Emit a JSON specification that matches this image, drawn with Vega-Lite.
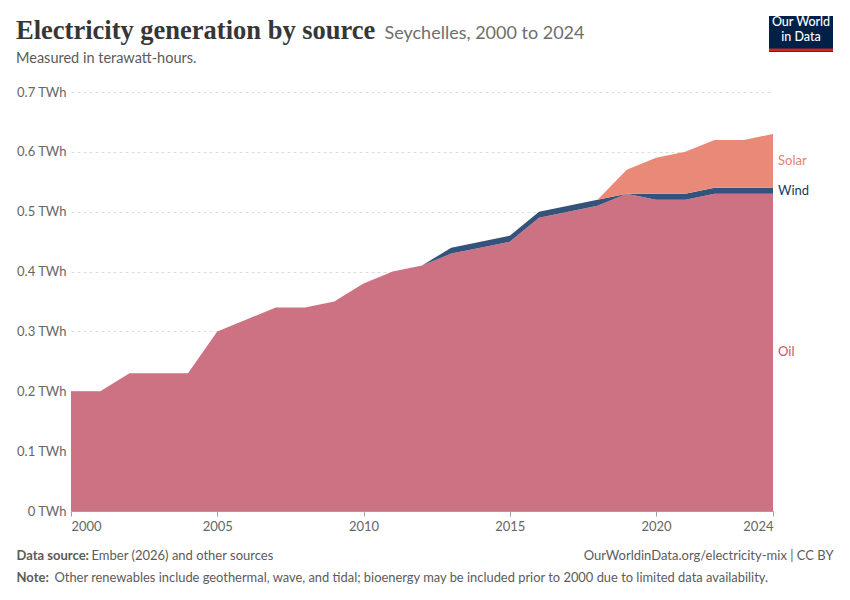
{
  "$schema": "https://vega.github.io/schema/vega-lite/v6.json",
  "width": 702,
  "height": 419,
  "autosize": "none",
  "padding": {"left": 71, "top": 92, "right": 77, "bottom": 89},
  "background": "white",
  "config": {"view": {"stroke": null}, "font": "Lato"},
  "title": {
    "text": "Electricity generation by source",
    "subtitle": "Measured in terawatt-hours.",
    "anchor": "start",
    "frame": "group",
    "dx": -55,
    "offset": -49,
    "font": "Liberation Serif",
    "fontSize": 26.5,
    "fontWeight": "bold",
    "color": "#363636",
    "subtitleFont": "Lato",
    "subtitleFontSize": 14.5,
    "subtitleColor": "#5b5b5b",
    "subtitlePadding": 7
  },
  "data": {
    "values": [
      {"year": 2000, "Oil": 0.20, "Wind": 0, "Solar": 0},
      {"year": 2001, "Oil": 0.20, "Wind": 0, "Solar": 0},
      {"year": 2002, "Oil": 0.23, "Wind": 0, "Solar": 0},
      {"year": 2003, "Oil": 0.23, "Wind": 0, "Solar": 0},
      {"year": 2004, "Oil": 0.23, "Wind": 0, "Solar": 0},
      {"year": 2005, "Oil": 0.30, "Wind": 0, "Solar": 0},
      {"year": 2006, "Oil": 0.32, "Wind": 0, "Solar": 0},
      {"year": 2007, "Oil": 0.34, "Wind": 0, "Solar": 0},
      {"year": 2008, "Oil": 0.34, "Wind": 0, "Solar": 0},
      {"year": 2009, "Oil": 0.35, "Wind": 0, "Solar": 0},
      {"year": 2010, "Oil": 0.38, "Wind": 0, "Solar": 0},
      {"year": 2011, "Oil": 0.40, "Wind": 0, "Solar": 0},
      {"year": 2012, "Oil": 0.41, "Wind": 0, "Solar": 0},
      {"year": 2013, "Oil": 0.43, "Wind": 0.01, "Solar": 0},
      {"year": 2014, "Oil": 0.44, "Wind": 0.01, "Solar": 0},
      {"year": 2015, "Oil": 0.45, "Wind": 0.01, "Solar": 0},
      {"year": 2016, "Oil": 0.49, "Wind": 0.01, "Solar": 0},
      {"year": 2017, "Oil": 0.50, "Wind": 0.01, "Solar": 0},
      {"year": 2018, "Oil": 0.51, "Wind": 0.01, "Solar": 0},
      {"year": 2019, "Oil": 0.53, "Wind": 0, "Solar": 0.04},
      {"year": 2020, "Oil": 0.52, "Wind": 0.01, "Solar": 0.06},
      {"year": 2021, "Oil": 0.52, "Wind": 0.01, "Solar": 0.07},
      {"year": 2022, "Oil": 0.53, "Wind": 0.01, "Solar": 0.08},
      {"year": 2023, "Oil": 0.53, "Wind": 0.01, "Solar": 0.08},
      {"year": 2024, "Oil": 0.53, "Wind": 0.01, "Solar": 0.09}
    ]
  },
  "transform": [
    {"fold": ["Oil", "Wind", "Solar"], "as": ["source", "value"]},
    {"calculate": "indexof(['Oil', 'Wind', 'Solar'], datum.source)", "as": "rank"}
  ],
  "layer": [
    {
      "mark": {"type": "area", "interpolate": "linear"},
      "encoding": {
        "x": {
          "field": "year",
          "type": "quantitative",
          "scale": {"domain": [2000, 2024], "nice": false, "zero": false},
          "axis": {
            "orient": "bottom",
            "values": [2000, 2005, 2010, 2015, 2020, 2024],
            "format": "d",
            "labelFlush": true,
            "labelFont": "Lato",
            "labelFontSize": 13,
            "labelColor": "#666666",
            "labelPadding": 4,
            "tickColor": "#a0a0a0",
            "tickSize": 5,
            "domainColor": "#a0a0a0",
            "grid": false,
            "title": "Ember (2026) and other sources",
            "titleX": 20,
            "titleY": 44,
            "titleAlign": "left",
            "titleBaseline": "middle",
            "titleFont": "Lato",
            "titleFontSize": 13,
            "titleFontWeight": "normal",
            "titleColor": "#5b5b5b",
            "titleLimit": 1000
          }
        },
        "y": {
          "field": "value",
          "type": "quantitative",
          "stack": "zero",
          "scale": {"domain": [0, 0.7], "nice": false},
          "axis": {
            "orient": "left",
            "values": [0, 0.1, 0.2, 0.3, 0.4, 0.5, 0.6, 0.7],
            "labelExpr": "format(datum.value, '.1~f') + ' TWh'",
            "labelFont": "Lato",
            "labelFontSize": 13,
            "labelColor": "#666666",
            "labelPadding": 5,
            "domain": false,
            "ticks": false,
            "grid": true,
            "gridColor": "#dddddd",
            "gridDash": [3, 3],
            "title": "Seychelles, 2000 to 2024",
            "titleAngle": 0,
            "titleX": 313,
            "titleY": -59,
            "titleAlign": "left",
            "titleBaseline": "middle",
            "titleFont": "Lato",
            "titleFontSize": 18,
            "titleFontWeight": "normal",
            "titleColor": "#6e6e6e",
            "titleLimit": 1000
          }
        },
        "color": {
          "field": "source",
          "type": "nominal",
          "scale": {"domain": ["Oil", "Wind", "Solar"], "range": ["#cc7282", "#34527a", "#e98a78"]},
          "legend": null
        },
        "order": {"field": "rank", "type": "quantitative"}
      }
    },
    {
      "transform": [
        {"filter": "datum.year == 2024"},
        {"stack": "value", "groupby": ["year"], "sort": [{"field": "rank"}], "as": ["v0", "v1"]},
        {"calculate": "(datum.v0 + datum.v1) / 2", "as": "mid"}
      ],
      "mark": {"type": "text", "align": "left", "baseline": "middle", "dx": 5, "font": "Lato", "fontSize": 13},
      "encoding": {
        "x": {
          "field": "year",
          "type": "quantitative",
          "axis": {
            "orient": "bottom",
            "labels": false,
            "ticks": false,
            "domain": false,
            "grid": false,
            "title": "Data source:",
            "titleX": -55,
            "titleY": 44,
            "titleAlign": "left",
            "titleBaseline": "middle",
            "titleFont": "Lato",
            "titleFontSize": 13,
            "titleFontWeight": "bold",
            "titleColor": "#5b5b5b",
            "titleLimit": 1000
          }
        },
        "y": {
          "field": "mid",
          "type": "quantitative",
          "axis": {
            "orient": "right",
            "labels": false,
            "ticks": false,
            "domain": false,
            "grid": false,
            "title": "OurWorldinData.org/electricity-mix | CC BY",
            "titleAngle": 0,
            "titleX": 60,
            "titleY": 463,
            "titleAlign": "right",
            "titleBaseline": "middle",
            "titleFont": "Lato",
            "titleFontSize": 13,
            "titleFontWeight": "normal",
            "titleColor": "#5b5b5b",
            "titleLimit": 1000
          }
        },
        "text": {"field": "source", "type": "nominal"},
        "color": {
          "field": "source",
          "type": "nominal",
          "scale": {"domain": ["Oil", "Wind", "Solar"], "range": ["#c4566c", "#1b3a60", "#e4826e"]},
          "legend": null
        }
      }
    },
    {
      "mark": {"type": "point", "opacity": 0},
      "encoding": {
        "x": {
          "field": "year",
          "type": "quantitative",
          "axis": {
            "orient": "bottom",
            "labels": false,
            "ticks": false,
            "domain": false,
            "grid": false,
            "title": "Note:",
            "titleX": -55,
            "titleY": 66,
            "titleAlign": "left",
            "titleBaseline": "middle",
            "titleFont": "Lato",
            "titleFontSize": 13,
            "titleFontWeight": "bold",
            "titleColor": "#5b5b5b",
            "titleLimit": 1000
          }
        },
        "y": {
          "field": "value",
          "type": "quantitative",
          "axis": {
            "orient": "left",
            "labels": false,
            "ticks": false,
            "domain": false,
            "grid": false,
            "title": "Other renewables include geothermal, wave, and tidal; bioenergy may be included prior to 2000 due to limited data availability.",
            "titleAngle": 0,
            "titleX": -17,
            "titleY": 485,
            "titleAlign": "left",
            "titleBaseline": "middle",
            "titleFont": "Lato",
            "titleFontSize": 12.9,
            "titleFontWeight": "normal",
            "titleColor": "#5b5b5b",
            "titleLimit": 1000
          }
        },
        "color": {
          "field": "value",
          "type": "quantitative",
          "scale": {"range": ["#ce261e", "#ce261e"]},
          "legend": {
            "orient": "none",
            "legendX": 698,
            "legendY": -76,
            "direction": "horizontal",
            "gradientLength": 64,
            "gradientThickness": 3,
            "gradientStrokeWidth": 0,
            "values": [],
            "labelFontSize": 0,
            "title": ["Our World", "in Data"],
            "titleColor": "#ffffff",
            "titleFont": "Lato",
            "titleFontSize": 12.5,
            "titleFontWeight": 500,
            "titleAlign": "center",
            "titleAnchor": "middle",
            "titleLineHeight": 15,
            "titlePadding": 5,
            "fillColor": "#002147",
            "padding": 0
          }
        }
      }
    }
  ],
  "resolve": {
    "scale": {"color": "independent"},
    "axis": {"x": "independent", "y": "independent"}
  }
}
